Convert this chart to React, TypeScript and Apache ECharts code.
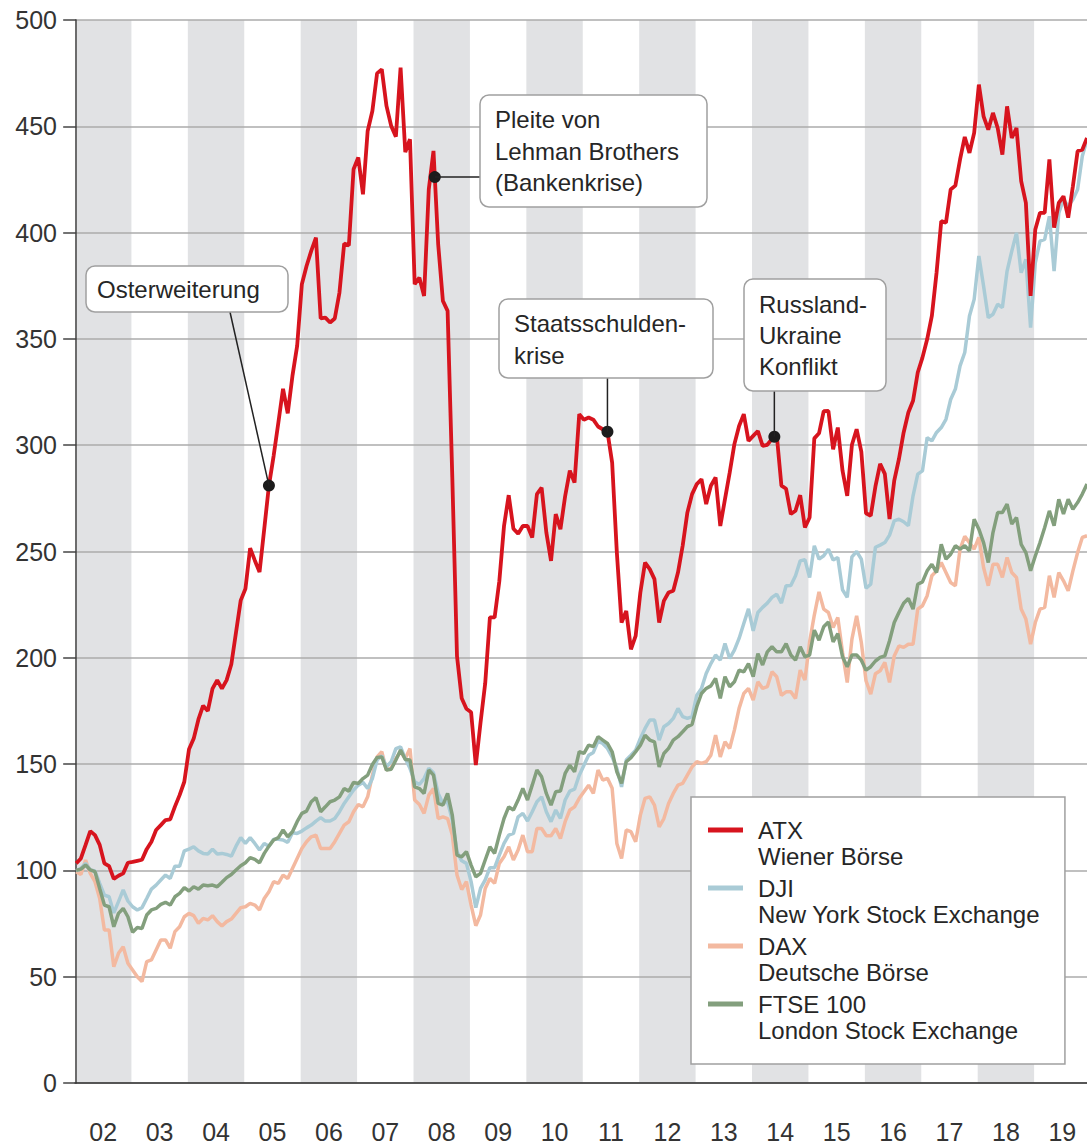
import React, { useEffect, useRef } from "react";
import * as echarts from "echarts";

const FONT = "'Liberation Sans', Arial, Helvetica, sans-serif";

// Year labels (one band per year, month index 0 = Jan 2002)
const yearLabels = ["02", "03", "04", "05", "06", "07", "08", "09", "10", "11", "12", "13", "14", "15", "16", "17", "18", "19"];

// Monthly index values (Jan 2002 = ~100)
const atx = [
  103.3, 105.6, 112, 118.5, 116.6, 112, 103.3, 102, 96, 97.5, 98.6, 103.6,
  104, 104.5, 105, 110, 113.5, 119, 121.3, 123.7, 124, 130, 135.4, 141.7,
  157, 162, 171, 177.5, 175, 185.5, 189.5, 185.5, 189.5, 197, 212, 227,
  232.5, 251.6, 245.8, 240.3, 260.6, 281, 295, 310.6, 326.5, 315, 332.6, 346.7,
  375.7, 384.3, 391.4, 397.6, 359.6, 360, 357.7, 359.6, 371.8, 394.8, 394, 429.8,
  435.3, 418, 447.8, 457.2, 474.9, 476.8, 459.6, 450.2, 445.1, 477.6, 437.9, 443.9,
  375.7, 378.8, 370.2, 420.4, 438.4, 394.5, 367.9, 363.2, 285, 200.8, 181, 176,
  174.4, 149.5, 169.4, 188, 219, 219, 236, 262, 276.5, 260.7, 258.4, 262,
  262, 256.6, 277, 280, 259, 245.6, 267.6, 260.5, 276, 288, 282.4, 314.6,
  312, 313, 312, 308.8, 307.5, 306.3, 291.8, 249.5, 216.6, 222, 204, 210.3,
  230.7, 244.8, 241.7, 237, 216.6, 226.8, 230.7, 231.5, 240.1, 252.7, 268.3, 277,
  281.7, 284, 272.3, 280.9, 284.8, 262, 274.6, 287.1, 300.5, 309, 314.6, 302,
  304.4, 306.7, 299.7, 300.2, 303, 305, 281, 279.5, 267.6, 269.2, 276.5, 261.3,
  266, 303.2, 305.6, 316, 316.1, 298.1, 308.3, 288, 276.2, 300.2, 307.5, 297,
  268, 266.8, 280.6, 291.2, 286.5, 265.3, 283.3, 293.5, 306, 315.4, 320.9, 334.2,
  341.2, 349.8, 360.8, 381.1, 405.4, 404.6, 420.3, 422.1, 434.4, 445, 437.5, 446.9,
  469.6, 454.7, 448.4, 456.3, 449.2, 436.7, 459.4, 444.5, 449.2, 424.2, 414, 370.2,
  401.5, 409.3, 409.3, 434.4, 402.3, 414, 417.1, 407, 421.8, 438.3, 439, 444.5,
];

const dji = [
  99.7, 101, 103.3, 100.2, 99.7, 93.9, 88.4, 87.6, 80, 85.3, 90.8, 85.6,
  82.9, 81.4, 82.5, 86.8, 91.2, 93.1, 95.5, 97.8, 96.2, 102, 102, 109.2,
  110, 111.1, 109.2, 108, 107.7, 110, 107.7, 108, 107.5, 106.7, 111.4, 115.4,
  112.7, 115.4, 112.7, 109.6, 112.7, 111.4, 114.7, 114.6, 114.3, 113.2, 117.7, 117.4,
  118.5, 120, 121.3, 123.2, 124.8, 123.2, 123.2, 124.4, 127.6, 131.5, 134.6, 137.8,
  140.1, 141.4, 138.5, 143.2, 151.9, 153.9, 148.7, 151.1, 157.3, 158.1, 152.6, 148,
  141.7, 140.4, 143.2, 148, 145.9, 136.2, 131.5, 132.3, 123.7, 108.8, 104.5, 103.3,
  94.7, 82.5, 91.5, 95.5, 101.3, 101.3, 107.2, 112.7, 116.6, 117.4, 125.2, 126.8,
  123.2, 127.6, 132.3, 134.6, 127.6, 122.9, 128.4, 124.5, 133.1, 137.3, 138.2, 144.8,
  149.5, 154.2, 155.5, 160.8, 159.7, 157.4, 153.4, 148, 139.3, 151.9, 154.2, 156.6,
  162.1, 166.8, 170.7, 170.7, 161.3, 167.6, 169.1, 171.5, 176.2, 172.3, 171.5, 172.3,
  182.4, 185.6, 192.6, 197.3, 201.3, 198.9, 206.7, 199.7, 203.6, 209.1, 216.1, 223,
  212.7, 221.3, 223.7, 225.7, 228.4, 229.9, 225.7, 233.9, 234, 238.6, 245.6, 246.2,
  237.8, 252.7, 246.4, 248, 251.1, 246, 247.2, 232, 228.4, 247.5, 250, 246.4,
  232.7, 234.6, 252, 253, 254.2, 257.7, 264.4, 265.2, 264, 262.1, 276.2, 286.4,
  287.9, 303.6, 302, 306, 308.3, 312.2, 321.5, 326.4, 337.3, 343.6, 360.8, 368.6,
  389, 374.9, 360, 361.6, 366.3, 364.7, 381.9, 391.3, 399.9, 381.1, 387.4, 355.3,
  385.8, 396, 396.8, 407.7, 381.9, 409.3, 415.6, 412.4, 415.6, 420.3, 435.9, 443.7,
];

const dax = [
  99.4, 98.1, 104.9, 98.6, 94.7, 86.8, 72, 72, 54.7, 61, 64.1, 56.3,
  53.2, 50, 47.7, 57.1, 57.9, 62.6, 67.3, 67.3, 63.4, 71.2, 73.5, 78.2,
  79.8, 78.7, 75.1, 77.4, 76.7, 78.7, 75.9, 73.8, 75.9, 77.1, 79.8, 82.5,
  82.9, 84.5, 83.7, 81.4, 86.8, 90, 94.7, 93.9, 97.8, 96.2, 100.9, 105.6,
  110.3, 113.5, 115.8, 116.6, 110.3, 110.3, 110.3, 113.5, 117.4, 121.3, 122.9, 127.6,
  131, 129.9, 134.6, 144.8, 153.4, 155.8, 147.2, 148.3, 152.6, 155.8, 152.6, 157.3,
  133.1, 131, 126.8, 135.4, 138.5, 124.4, 125.2, 124.4, 116.6, 97.8, 91, 94.7,
  83.7, 74, 79, 91.5, 96.2, 93.9, 103.3, 106.4, 111.1, 104.9, 109.6, 116.6,
  108.8, 108.8, 119.7, 119.7, 116.3, 116.3, 119.7, 115, 122.9, 128.4, 129.9, 133.9,
  137, 140.1, 136.2, 147.2, 142.5, 143.3, 138.6, 112.7, 105.6, 119, 118.2, 113.5,
  126, 133.9, 134.6, 130.7, 120.5, 124.4, 131.5, 136.2, 140.1, 140.9, 144.8, 148.7,
  151.1, 150.3, 151.1, 154.2, 163.6, 153.4, 160.5, 157.4, 166, 176.2, 183.2, 185.6,
  180.1, 188.7, 185.6, 186.4, 193.4, 191.1, 182.4, 184, 184, 180.9, 194.2, 189.5,
  207.5, 220.1, 231, 222.9, 221.3, 214.3, 219, 202.5, 188.4, 208.8, 219.7, 207.2,
  189.2, 182.9, 192.5, 193.9, 197.8, 188.4, 200.9, 205.6, 204.9, 206.4, 206.4, 222.9,
  224.5, 229.2, 238.6, 240.9, 244.8, 240.1, 235.4, 233.9, 251.1, 257.1, 254.2, 251.1,
  256.6, 242.5, 233.9, 244, 244, 237.8, 247.2, 240.1, 237.8, 222.9, 218.2, 206.4,
  216.6, 222.9, 223.7, 238.6, 228.4, 240.1, 236.2, 231.5, 240.9, 249.5, 256.6, 257.4,
];

const ftse = [
  100, 100.6, 102.5, 100.2, 99.4, 91.5, 83.7, 82.9, 73.5, 79.8, 82.1, 78.2,
  70.9, 73.1, 72.7, 79, 81.4, 82.1, 84, 85, 83.7, 87.6, 89.2, 91.9,
  90.3, 92.3, 91.2, 93.1, 92.8, 93.1, 92.3, 94.4, 96.6, 98.1, 100.2, 102.2,
  103.6, 106, 105.2, 103.6, 108, 111.4, 114.3, 115.4, 119, 115.8, 118.2, 122.9,
  126.8, 127.9, 132.3, 134.2, 127.6, 129.9, 132.3, 133.1, 134.6, 138.5, 137.3, 141.4,
  140.9, 143.2, 144.8, 149.8, 153.1, 153.4, 147.2, 147.6, 151.9, 156.6, 152.2, 151.9,
  139.3, 138.5, 136.2, 147.2, 144.8, 131.5, 130.7, 136.2, 126, 107.2, 106.4, 108.8,
  102.5, 97, 98.6, 104.9, 111.1, 108, 116.6, 124.4, 129.9, 128.4, 133.1, 138.6,
  133.1, 140.1, 147.2, 144, 136.2, 130.7, 137, 137.3, 145.6, 149.5, 146.4, 155.8,
  155, 158.9, 158.2, 162.9, 161.3, 159.7, 155.8, 146.4, 140.9, 151.1, 153, 155.8,
  158.9, 163.6, 161.3, 160.5, 148.7, 155, 157.4, 161.3, 162.9, 165.2, 167.6, 168.7,
  177, 183.2, 185.6, 186.8, 190.3, 180.9, 191.1, 186.4, 188.7, 194.2, 193.4, 197.3,
  191.1, 202, 196.6, 202.8, 205.2, 202.8, 202.8, 206.7, 201.3, 198.9, 205.2, 200.5,
  201.3, 213, 208.3, 214.6, 216.9, 207.5, 211.4, 200.5, 195.8, 201.3, 201.3, 198.9,
  194.2, 195.8, 198.5, 200.2, 200.9, 208, 216.6, 221.3, 225.7, 227.9, 222.9, 234.6,
  235.7, 240.9, 244, 240.1, 253.4, 246.4, 248.7, 252.7, 251.1, 252.7, 250.3, 265.2,
  260.5, 254.2, 244.8, 258.9, 268.3, 268.3, 272.3, 262.9, 266, 253.4, 249.5, 240.9,
  247.9, 254.2, 261.3, 269.1, 262.1, 274.6, 267.6, 274.6, 269.9, 273, 277, 281.7,
];

const seriesNames = ["ATX", "DJI", "DAX", "FTSE 100"];
const seriesSubtitles = ["Wiener Börse", "New York Stock Exchange", "Deutsche Börse", "London Stock Exchange"];
const seriesColors = ["#d7141e", "#a9cbd6", "#f3b9a0", "#839f7d"];
const seriesValues = [atx, dji, dax, ftse];

const yMin = 0;
const yMax = 500;
const yStep = 50;

// Callouts: month position of the marked point on the ATX line, box and text styling
const annotations = [
  { lines: ["Osterweiterung"], at: 41, box: [86, 266, 202, 46], textPos: [97, 273], lineHeight: 32, from: [230, 312] },
  { lines: ["Pleite von", "Lehman Brothers", "(Bankenkrise)"], at: 76.28, box: [480, 95, 227, 112], textPos: [495, 104], lineHeight: 31.5, from: [480, null] },
  { lines: ["Staatsschulden-", "krise"], at: 113, box: [499, 299, 214, 79], textPos: [514, 307], lineHeight: 32, from: [null, 378] },
  { lines: ["Russland-", "Ukraine", "Konflikt"], at: 148.5, box: [744, 279, 142, 112], textPos: [759, 289], lineHeight: 31, from: [null, 391] },
];

function valueAt(arr: number[], x: number) {
  const i = Math.floor(x);
  const t = x - i;
  if (i + 1 >= arr.length) return arr[arr.length - 1];
  return arr[i] * (1 - t) + arr[i + 1] * t;
}

const LEGEND_ICON = "path://M0,0L35,0L35,5L0,5Z M0,30.9L0.01,30.9L0.01,31L0,31Z";

export default function App() {
  const ref = useRef<HTMLDivElement>(null);

  useEffect(() => {
    if (!ref.current) return;
    const chart = echarts.init(ref.current, null, { renderer: "svg" });

    const xMin = -0.25;
    const xMax = atx.length - 1;

    const bandData = yearLabels
      .map((_, k) => k)
      .filter((k) => k % 2 === 0)
      .map((k) => [{ xAxis: 12 * k - 0.25 }, { xAxis: 12 * k + 11.75 }]);

    const labelValues = yearLabels.map((_, k) => 12 * k + 5.75);

    const drawOrder = [2, 1, 3, 0];

    const option: any = {
      animation: false,
      backgroundColor: "#ffffff",
      textStyle: { fontFamily: FONT },
      grid: { left: 75, right: 0, top: 20, bottom: 60, containLabel: false },
      xAxis: {
        type: "value",
        min: xMin,
        max: xMax,
        z: 3,
        axisLine: { show: true, onZero: false, lineStyle: { color: "#333333", width: 1.5 } },
        axisTick: { show: false },
        splitLine: { show: false },
        axisLabel: {
          customValues: labelValues,
          formatter: (v: number) => yearLabels[Math.round((v - 5.75) / 12)] ?? "",
          fontSize: 25,
          color: "#333333",
          fontFamily: FONT,
          margin: 36,
        },
      },
      yAxis: {
        type: "value",
        min: yMin,
        max: yMax,
        interval: yStep,
        z: 3,
        axisLine: { show: true, lineStyle: { color: "#444444", width: 1.5 } },
        axisTick: { show: true, inside: false, length: 13, lineStyle: { color: "#444444", width: 1.5 } },
        axisLabel: { fontSize: 25, color: "#333333", margin: 18, fontFamily: FONT },
        splitLine: { show: true, lineStyle: { color: "#ababab", width: 1.5 } },
      },
      legend: {
        show: true,
        orient: "vertical",
        left: 691,
        top: 797,
        z: 10,
        padding: [20, 25, 21, 17],
        itemGap: 6,
        itemWidth: 35,
        itemHeight: 31,
        backgroundColor: "#ffffff",
        borderColor: "#a0a0a0",
        borderWidth: 1.5,
        borderRadius: 0,
        selectedMode: false,
        data: seriesNames.map((name) => ({ name, icon: LEGEND_ICON })),
        formatter: (name: string) => `${name}\n${seriesSubtitles[seriesNames.indexOf(name)]}`,
        textStyle: {
          fontSize: 24,
          lineHeight: 26,
          color: "#262626",
          fontFamily: FONT,
          padding: [0, 0, 0, 10],
        },
      },
      series: [
        {
          name: "bands",
          type: "line",
          data: [],
          z: 1,
          silent: true,
          markArea: {
            silent: true,
            itemStyle: { color: "#e1e2e4" },
            data: bandData,
          },
        },
        ...drawOrder.map((idx) => ({
          name: seriesNames[idx],
          type: "line",
          data: seriesValues[idx].map((v, i) => [i, v]),
          showSymbol: false,
          symbol: "none",
          z: 4,
          color: seriesColors[idx],
          lineStyle: { color: seriesColors[idx], width: idx === 0 ? 3.8 : 3.5 },
          markPoint:
            idx === 0
              ? {
                  symbol: "circle",
                  symbolSize: 12,
                  silent: true,
                  itemStyle: { color: "#1c1c1c" },
                  label: { show: false },
                  data: annotations.map((a) => ({ coord: [a.at, valueAt(atx, a.at)] })),
                }
              : undefined,
        })),
      ],
    };

    chart.setOption(option);

    const graphics: any[] = [];
    annotations.forEach((a) => {
      const p = chart.convertToPixel({ gridIndex: 0 }, [a.at, valueAt(atx, a.at)]) as number[];
      const x1 = a.from[0] == null ? p[0] : (a.from[0] as number);
      const y1 = a.from[1] == null ? p[1] : (a.from[1] as number);
      graphics.push({
        type: "line",
        z: 100,
        silent: true,
        shape: { x1, y1, x2: p[0], y2: p[1] },
        style: { stroke: "#222222", lineWidth: 1.5 },
      });
      graphics.push({
        type: "rect",
        z: 101,
        silent: true,
        shape: { x: a.box[0], y: a.box[1], width: a.box[2], height: a.box[3], r: 9 },
        style: { fill: "#ffffff", stroke: "#a0a0a0", lineWidth: 1.5 },
      });
      graphics.push({
        type: "text",
        z: 102,
        silent: true,
        x: a.textPos[0],
        y: a.textPos[1],
        style: {
          text: a.lines.join("\n"),
          fontSize: 24,
          fontFamily: FONT,
          fill: "#262626",
          lineHeight: a.lineHeight,
          verticalAlign: "top",
          align: "left",
        },
      });
    });
    chart.setOption({ graphic: graphics });

    return () => {
      chart.dispose();
    };
  }, []);

  return (
    <div
      ref={ref}
      style={{ position: "absolute", left: 0, top: 0, width: 1087, height: 1144, background: "#fff" }}
    />
  );
}
